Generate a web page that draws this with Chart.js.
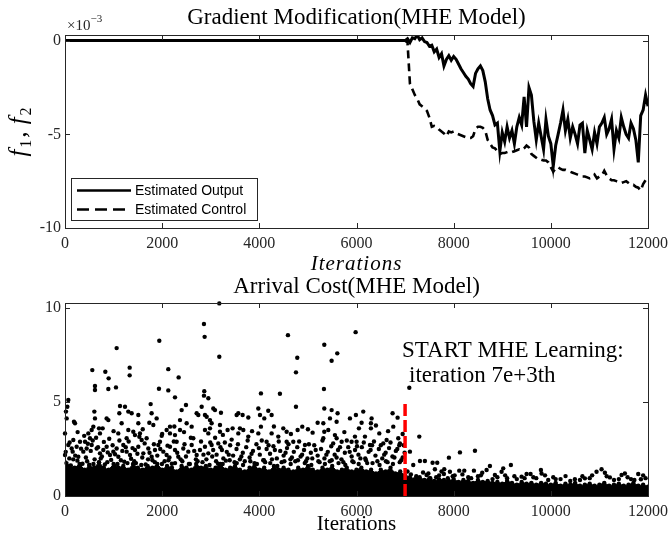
<!DOCTYPE html>
<html>
<head>
<meta charset="utf-8">
<script src="https://cdn.jsdelivr.net/npm/chart.js@4.4.0/dist/chart.umd.min.js"></script>
<style>
  html, body { margin: 0; padding: 0; background: #fff; }
  #wrap { position: relative; width: 669px; height: 542px; overflow: hidden; }
  canvas { position: absolute; left: 0; }
  #gradChart { top: 0; }
  #costChart { top: 270px; }
</style>
</head>
<body>
<div id="wrap">
  <canvas id="gradChart" width="669" height="276"></canvas>
  <canvas id="costChart" width="669" height="272"></canvas>
</div>
<script>
const SERIF = '"Liberation Serif", "Times New Roman", serif';
const SANS = '"Liberation Sans", Arial, sans-serif';
const INK = '#262626';

const iterTicks = [0, 2000, 4000, 6000, 8000, 10000, 12000];
const gradTicks = [-10, -5, 0];
const costTicks = [0, 5, 10];

// gradient modification terms (x1e-3), flat until learning starts, then every 50 iterations
const gradIter = [0];
for (let it = 7000; it <= 12000; it += 50) gradIter.push(it);

const outputVals = [0,
  0, 0.1, -0.1, 0.15, 0.1, 0.3, 0.05, 0.15, -0.05, -0.1,
  -0.3, -0.25, -0.6, -0.45, -0.9, -0.7, -1.35, -1.0, -0.8, -1.05,
  -0.85, -1.0, -1.25, -1.5, -1.7, -1.9, -2.05, -2.3, -2.45, -1.75,
  -1.5, -1.35, -1.6, -2.2, -3.1, -3.7, -4.0, -4.5, -4.4, -5.9,
  -4.9, -5.4, -4.6, -5.2, -4.8, -5.5, -4.6, -4.1, -4.5, -3.0,
  -4.6, -2.5, -2.9, -4.3, -5.3, -4.4, -5.1, -5.8, -4.2, -5.1,
  -5.5, -6.7, -5.6, -5.0, -4.4, -3.7, -4.8, -4.2, -5.2, -4.6,
  -5.0, -5.5, -4.5, -4.4, -6.0, -4.8, -5.3, -5.8, -4.9, -5.5,
  -4.6, -4.4, -4.1, -5.0, -4.7, -4.2, -5.8, -4.8, -5.2, -4.1,
  -4.6, -5.0, -5.2, -4.4, -4.7, -5.3, -6.5, -4.0, -3.7, -2.9,
  -3.5];

const controlVals = [0,
  0, -0.1, -2.3, -2.6, -2.9, -3.1, -3.4, -3.5, -3.6, -3.75,
  -4.1, -4.6, -4.55, -4.6, -4.75, -4.85, -4.95, -5.1, -4.85, -4.9,
  -4.85, -4.95, -5.0, -5.05, -5.1, -5.15, -5.2, -5.2, -5.1, -4.7,
  -4.6, -4.6, -4.65, -4.8, -5.3, -5.5, -5.7, -5.75, -5.9, -6.05,
  -6.0, -6.0, -5.95, -5.9, -5.95, -5.9, -5.85, -5.8, -5.85, -5.75,
  -5.6, -5.7, -6.05, -6.15, -6.25, -6.35, -6.35, -6.4, -6.4, -6.5,
  -6.75, -7.0, -6.8, -6.75, -6.85, -6.9, -6.9, -6.95, -7.0, -7.05,
  -7.1, -7.15, -7.2, -7.25, -7.25, -7.3, -7.35, -7.3, -7.15, -7.35,
  -7.25, -7.2, -6.95, -7.2, -7.35, -7.45, -7.45, -7.5, -7.55, -7.6,
  -7.55, -7.5, -7.6, -7.7, -7.7, -7.8, -7.85, -8.0, -7.65, -7.45,
  -7.35];

// upper edge of the solid cloud of arrival-cost samples, every 100 iterations
const bandIter = [];
for (let it = 0; it <= 12000; it += 100) bandIter.push(it);

const bandTop = [
  1.8, 1.6, 1.5, 1.7, 1.4, 1.6, 1.5, 1.8, 1.5, 1.4,
  1.7, 1.5, 1.6, 1.4, 1.7, 1.5, 1.4, 1.6, 1.5, 1.7,
  1.4, 1.6, 1.5, 1.3, 1.6, 1.5, 1.4, 1.7, 1.5, 1.6,
  1.4, 1.5, 1.7, 1.4, 1.5, 1.6, 1.4, 1.3, 1.5, 1.6,
  1.4, 1.5, 1.3, 1.6, 1.4, 1.5, 1.4, 1.3, 1.5, 1.4,
  1.6, 1.4, 1.3, 1.5, 1.4, 1.6, 1.3, 1.4, 1.5, 1.3,
  1.4, 1.5, 1.3, 1.4, 1.2, 1.4, 1.3, 1.5, 1.2, 1.3,
  1.1, 1.0, 0.9, 1.0, 0.85, 0.95, 0.8, 0.9, 0.85, 0.8,
  0.9, 0.75, 0.85, 0.8, 0.7, 0.85, 0.75, 0.8, 0.7, 0.75,
  0.65, 0.8, 0.7, 0.6, 0.75, 0.65, 0.7, 0.6, 0.7, 0.65,
  0.6, 0.7, 0.55, 0.65, 0.6, 0.7, 0.55, 0.6, 0.65, 0.55,
  0.6, 0.7, 0.55, 0.6, 0.65, 0.55, 0.6, 0.7, 0.55, 0.6, 0.5];

// individual arrival-cost samples [iteration, cost]
const costHigh = [
  [3176, 10.25], [2860, 9.15], [2874, 8.47], [1941, 8.26], [4589, 8.56], [5982, 8.72], [4781, 7.36], [4754, 6.58],
  [5337, 8.05], [5488, 7.2], [5604, 7.59], [3176, 7.41], [1063, 7.87], [562, 6.7], [830, 6.61], [898, 6.26],
  [1331, 6.83], [1331, 6.42], [2126, 6.75], [2339, 6.31], [617, 5.85], [617, 5.64], [1049, 5.78], [892, 5.69],
  [1934, 5.71], [2126, 5.62], [2867, 5.58], [2860, 5.34], [4424, 5.44], [4033, 5.46], [5330, 5.69], [7087, 5.76],
  [68, 5.11], [2264, 5.25], [2950, 5.2]];

const costMid = [
  [48, 4.75], [20, 4.49], [34, 4.13], [0, 3.33], [185, 3.95], [206, 3.87], [604, 4.49], [617, 4.13], [583, 3.69], [549, 3.51],
  [480, 3.33], [857, 4.13], [892, 4.04], [775, 3.6], [720, 3.33], [1132, 4.79], [1235, 4.75], [1303, 4.49], [1372, 4.4], [1509, 4.31],
  [1118, 4.4], [1166, 3.87], [1097, 3.33], [1303, 3.51], [1406, 3.42], [1440, 3.24], [1543, 3.33], [1509, 3.87], [1578, 2.98], [1763, 4.89],
  [1783, 4.4], [1736, 3.9], [1818, 3.78], [1886, 4.13], [2161, 3.69], [2092, 3.51], [2161, 3.33], [2264, 3.24], [2367, 3.51], [2367, 4.04],
  [2401, 4.57], [2490, 4.84], [2504, 3.87], [2607, 3.69], [2710, 4.4], [2744, 4.31], [2813, 4.75], [2916, 4.22], [2881, 3.51], [3052, 4.66],
  [3087, 4.57], [3210, 4.43], [3533, 4.31], [3567, 4.4], [3656, 4.31], [3773, 4.18], [3979, 4.66], [4013, 4.31], [4102, 4.13], [4184, 4.54],
  [4253, 4.31], [5337, 4.66], [5488, 4.57], [5611, 4.4], [5454, 4.13], [5591, 3.95], [5865, 4.13], [2881, 4.31], [2984, 4.04], [3018, 3.87],
  [3190, 3.78], [2984, 3.6], [3347, 3.51], [3190, 3.42], [2950, 3.33], [3601, 3.6], [3670, 3.51], [3567, 3.33], [3773, 3.16], [3979, 3.33],
  [4033, 3.69], [4253, 3.33], [4390, 3.16], [4493, 3.6], [4562, 3.42], [4788, 3.51], [4884, 3.69], [5097, 3.37], [5317, 3.87], [5337, 3.42],
  [5419, 3.51], [5556, 3.24], [5591, 3.07], [5317, 3.07], [6139, 4.49], [5988, 4.31], [6311, 4.13], [6743, 4.4], [6846, 4.17], [6105, 3.9],
  [6297, 3.87], [6297, 3.6], [6757, 3.69], [6469, 3.33], [5968, 3.16], [6174, 3.16], [6860, 3.07], [4754, 4.75],
  [260, 3.4], [700, 3.6], [1000, 3.45], [1600, 3.55], [2000, 3.3], [2250, 3.7], [2450, 3.4], [3250, 3.25], [3450, 3.6], [3850, 3.45],
  [4300, 3.7], [4650, 3.3], [5000, 3.55], [5200, 3.9], [5750, 3.4], [6050, 3.6], [6400, 3.75], [6650, 3.45], [6950, 3.3]];

const costBand = [
  [309, 2.89], [412, 2.89], [514, 3.07], [171, 2.98], [1269, 3.07], [1680, 3.07], [1955, 2.89], [2298, 2.89], [2641, 3.07], [5694, 2.89],
  [5899, 2.89], [4150, 2.89], [4562, 2.89], [4699, 2.89], [4939, 2.71], [3018, 2.71], [3155, 2.8], [6002, 2.89], [6551, 2.8], [6894, 2.8],
  [6277, 2.71], [6620, 2.98],
  [68, 2.71], [137, 2.53], [240, 2.62], [158, 2.36], [0, 2.18], [89, 2.0], [274, 2.09], [377, 2.36], [446, 2.53], [549, 2.71],
  [652, 2.53], [720, 2.27], [789, 2.45], [857, 2.62], [926, 2.18], [995, 2.36], [1063, 2.53], [1098, 2.09], [1200, 2.71], [1269, 2.36],
  [1338, 2.18], [1441, 2.45], [1509, 2.62], [1612, 2.27], [1715, 2.53], [1784, 2.09], [1852, 2.45], [1921, 2.71], [2024, 2.36], [2092, 2.18],
  [2161, 2.62], [2264, 2.45], [2332, 2.09], [2435, 2.53], [2538, 2.36], [2607, 2.71], [2710, 2.18], [2778, 2.45], [2881, 2.62], [2950, 2.27],
  [3050, 2.45], [3120, 2.2], [3200, 2.6], [3260, 2.0], [3330, 2.35], [3400, 2.7], [3460, 2.15], [3530, 2.5], [3600, 1.95], [3660, 2.3],
  [3730, 2.6], [3800, 2.05], [3870, 2.4], [3940, 2.75], [4010, 2.2], [4080, 1.9], [4150, 2.5], [4220, 2.25], [4290, 2.65], [4360, 2.0],
  [4430, 2.4], [4500, 2.15], [4570, 2.55], [4640, 1.95], [4710, 2.35], [4780, 2.6], [4850, 2.1], [4920, 2.45], [4990, 2.0], [5060, 2.3],
  [5130, 2.7], [5200, 2.15], [5270, 2.5], [5340, 2.0], [5410, 2.35], [5480, 2.65], [5550, 2.2], [5620, 2.45], [5690, 1.95], [5760, 2.3],
  [5830, 2.6], [5900, 2.1], [5970, 2.45], [6040, 2.2], [6110, 2.6], [6180, 2.0], [6250, 2.35], [6320, 2.7], [6390, 2.15], [6460, 2.5],
  [6530, 2.0], [6600, 2.3], [6670, 2.55], [6740, 2.1], [6810, 2.4], [6880, 2.7], [6950, 2.05], [6990, 2.3],
  [30, 1.75], [170, 1.95], [310, 1.65], [455, 1.85], [585, 1.7], [735, 2.0], [870, 1.8], [1015, 1.6], [1150, 1.9], [1285, 1.75],
  [1425, 1.85], [1570, 1.65], [1710, 1.95], [1850, 1.8], [1995, 1.7], [2130, 1.9], [2265, 1.75], [2415, 1.85], [2550, 1.7], [2695, 1.95],
  [2830, 1.8], [2975, 1.65], [3110, 1.85], [3245, 1.7], [3390, 1.9], [3535, 1.75], [3665, 1.65], [3815, 1.85], [3950, 1.7], [4095, 1.9],
  [4225, 1.75], [4370, 1.6], [4515, 1.85], [4645, 1.7], [4795, 1.9], [4935, 1.75], [5070, 1.65], [5215, 1.85], [5350, 1.7], [5490, 1.9],
  [5630, 1.75], [5770, 1.65], [5915, 1.85], [6045, 1.7], [6195, 1.9], [6330, 1.75], [6475, 1.65], [6605, 1.85], [6750, 1.7], [6890, 1.8]];

const costFill = [
  [15, 2.35], [95, 2.85], [120, 1.62], [210, 2.15], [255, 1.88], [330, 2.52], [360, 1.72], [395, 3.2], [430, 2.05], [470, 2.78],
  [500, 1.66], [530, 2.4], [570, 2.95], [610, 1.95], [640, 3.1], [680, 2.6], [700, 1.78], [760, 2.1], [800, 2.88], [820, 1.68],
  [880, 2.32], [910, 3.05], [950, 1.92], [980, 2.7], [1030, 2.22], [1080, 1.7], [1120, 2.95], [1180, 2.4], [1220, 1.82], [1250, 2.6],
  [1310, 2.9], [1360, 1.98], [1390, 2.55], [1460, 1.75], [1490, 2.25], [1530, 3.15], [1590, 2.05], [1640, 2.8], [1660, 1.68], [1740, 2.3],
  [1800, 1.9], [1830, 2.75], [1900, 2.15], [1960, 2.5], [1990, 3.2], [2050, 1.85], [2110, 2.68], [2150, 2.05], [2200, 1.72], [2240, 2.9],
  [2310, 2.3], [2380, 1.95], [2460, 2.75], [2490, 2.1], [2570, 1.7], [2590, 3.1], [2660, 2.4], [2730, 1.85], [2800, 2.9], [2850, 2.2],
  [2910, 1.95], [2990, 2.85], [3030, 2.1], [3090, 3.1], [3150, 1.72], [3230, 2.45], [3290, 2.85], [3310, 1.88], [3370, 2.2], [3430, 3.0],
  [3490, 1.8], [3560, 2.75], [3630, 2.1], [3700, 1.85], [3760, 2.95], [3840, 2.25], [3900, 1.75], [3990, 2.55], [4050, 2.95], [4120, 1.8],
  [4190, 2.7], [4260, 1.95], [4320, 2.45], [4400, 2.9], [4460, 1.8], [4540, 2.3], [4600, 2.75], [4670, 2.05], [4740, 1.85], [4820, 2.9],
  [4880, 2.2], [4960, 1.85], [5020, 2.75], [5090, 2.0], [5160, 2.45], [5240, 1.8], [5300, 2.95], [5380, 2.2], [5450, 1.85], [5520, 2.8],
  [5590, 2.05], [5660, 2.6], [5730, 1.8], [5800, 2.95], [5860, 2.35], [5940, 1.8], [6010, 2.65], [6080, 2.0], [6150, 2.85], [6220, 1.75],
  [6290, 2.45], [6360, 2.9], [6430, 1.85], [6500, 2.7], [6570, 2.2], [6640, 1.8], [6700, 2.85], [6780, 2.05], [6840, 2.5], [6920, 1.9],
  [6970, 2.7]];

const costLate = [
  [7168, 1.65], [7306, 1.86], [7408, 1.86], [7566, 1.77], [7662, 1.77], [7806, 1.42], [7923, 1.29], [8115, 1.35], [8218, 1.35], [8417, 1.35],
  [8588, 1.24], [8746, 1.6], [8849, 1.12], [7614, 1.42], [7443, 1.12], [7799, 1.17], [8678, 1.38], [7100, 2.36], [8129, 2.32], [8438, 2.41],
  [7902, 2.04], [7292, 3.16], [9178, 1.65], [9020, 1.47], [8986, 1.29], [9501, 1.17], [9583, 1.17], [9796, 1.38], [9809, 1.2], [10303, 1.06],
  [10495, 0.89], [10941, 1.29], [11044, 1.42], [11113, 1.24], [11216, 0.99], [11456, 1.12], [11524, 1.2], [11799, 1.17], [11854, 0.89], [9398, 1.03],
  [9946, 0.85], [10701, 0.94], [7050, 1.3], [7230, 1.05], [7370, 1.25], [7520, 0.95], [7700, 1.1], [7880, 0.95], [8020, 1.1], [8300, 1.0],
  [8500, 1.05], [8800, 0.9], [9100, 0.95], [9300, 0.9], [9700, 0.95], [10100, 0.9], [10400, 0.8], [10600, 0.85], [10800, 0.95], [11300, 0.85],
  [11650, 0.9], [11950, 0.95],
  [7120, 1.15], [7260, 0.95], [7480, 1.2], [7640, 1.0], [7750, 1.3], [7980, 1.05], [8180, 1.15], [8360, 0.95], [8560, 1.1], [8900, 1.0],
  [9060, 1.1], [9250, 1.05], [9460, 0.95], [9640, 1.0], [9880, 1.1], [10050, 1.0], [10200, 0.9], [10650, 1.05], [10850, 1.1], [11150, 1.05],
  [11400, 0.9], [11580, 1.0], [11720, 0.85], [11900, 1.1]];

const startIter = 7000;
const startMarkTop = 4.9;

function xAxis(height) {
  return {
    type: 'linear', min: 0, max: 12000,
    afterBuildTicks: s => { s.ticks = iterTicks.map(v => ({ value: v })); },
    // keep the plot width fixed; end labels may run into the margin
    afterFit: s => { s.height = height; s.paddingLeft = 0; s.paddingRight = 0; },
    grid: { display: false, drawTicks: false },
    border: { display: false },
    ticks: { padding: 6, color: INK, maxRotation: 0, autoSkip: false,
             font: { family: SERIF, size: 16 }, callback: v => String(v) }
  };
}

function yAxis(min, max, ticks) {
  return {
    type: 'linear', min: min, max: max,
    afterBuildTicks: s => { s.ticks = ticks.map(v => ({ value: v })); },
    afterFit: s => { s.width = 65; },
    grid: { display: false, drawTicks: false },
    border: { display: false },
    ticks: { padding: 4, color: INK, font: { family: SERIF, size: 16 }, callback: v => String(v) }
  };
}

// axes box with inward tick marks on all four sides
const frame = {
  id: 'frame',
  afterDatasetsDraw(chart) {
    const { ctx, chartArea: a, scales: { x, y } } = chart;
    ctx.save();
    ctx.strokeStyle = INK;
    ctx.lineWidth = 1;
    ctx.setLineDash([]);
    ctx.beginPath();
    x.ticks.forEach(t => {
      const px = Math.round(x.getPixelForValue(t.value)) + 0.5;
      ctx.moveTo(px, a.bottom); ctx.lineTo(px, a.bottom - 5);
      ctx.moveTo(px, a.top); ctx.lineTo(px, a.top + 5);
    });
    y.ticks.forEach(t => {
      const py = Math.round(y.getPixelForValue(t.value)) + 0.5;
      ctx.moveTo(a.left, py); ctx.lineTo(a.left + 5, py);
      ctx.moveTo(a.right, py); ctx.lineTo(a.right - 5, py);
    });
    ctx.stroke();
    ctx.strokeRect(a.left + 0.5, a.top + 0.5, a.right - a.left, a.bottom - a.top);
    ctx.restore();
  }
};

const gradDecor = {
  id: 'gradDecor',
  afterDraw(chart) {
    const { ctx, chartArea: a } = chart;
    const mid = (a.left + a.right) / 2;
    ctx.save();
    ctx.fillStyle = '#000';
    ctx.textBaseline = 'alphabetic';
    ctx.textAlign = 'center';
    ctx.font = '23px ' + SERIF;
    ctx.fillText('Gradient Modification(MHE Model)', mid, 24);
    ctx.font = 'italic 21px ' + SERIF;
    ctx.letterSpacing = '1px';
    ctx.fillText('Iterations', mid, 270);
    ctx.letterSpacing = '0px';

    // exponent label
    ctx.textAlign = 'left';
    ctx.fillStyle = INK;
    ctx.font = '15px ' + SERIF;
    ctx.fillText('\u00d710', a.left + 2, 30);
    const ew = ctx.measureText('\u00d710').width;
    ctx.font = '11px ' + SERIF;
    ctx.fillText('\u22123', a.left + 2 + ew, 22);

    // y label f1, f2
    const parts = [
      { t: 'f', f: 'italic 25px ' + SERIF, dy: 0 },
      { t: '1', f: '16px ' + SERIF, dy: 5 },
      { t: ',\u2009', f: 'italic 25px ' + SERIF, dy: 0 },
      { t: 'f', f: 'italic 25px ' + SERIF, dy: 0 },
      { t: '2', f: '16px ' + SERIF, dy: 5 }
    ];
    let total = 0;
    parts.forEach(p => { ctx.font = p.f; p.w = ctx.measureText(p.t).width + 2; total += p.w; });
    ctx.translate(26, 131);
    ctx.rotate(-Math.PI / 2);
    ctx.fillStyle = '#000';
    let cx = -total / 2;
    parts.forEach(p => { ctx.font = p.f; ctx.fillText(p.t, cx, p.dy); cx += p.w; });
    ctx.setTransform(1, 0, 0, 1, 0, 0);

    // legend
    const lx = a.left + 6, ly = a.bottom - 50, lw = 186, lh = 42;
    ctx.fillStyle = '#fff';
    ctx.fillRect(lx, ly, lw, lh);
    ctx.strokeStyle = INK;
    ctx.lineWidth = 1;
    ctx.strokeRect(lx + 0.5, ly + 0.5, lw, lh);
    ctx.font = '14px ' + SANS;
    ctx.textBaseline = 'middle';
    chart.data.datasets.forEach((ds, i) => {
      const yy = ly + 12.5 + i * 19;
      ctx.strokeStyle = '#000';
      ctx.lineWidth = 2.6;
      ctx.setLineDash(ds.borderDash ? [12, 6] : []);
      ctx.beginPath();
      ctx.moveTo(lx + 6, yy);
      ctx.lineTo(lx + 60, yy);
      ctx.stroke();
      ctx.fillStyle = '#000';
      ctx.fillText(ds.label, lx + 64, yy + 1);
    });
    ctx.restore();
  }
};

const costDecor = {
  id: 'costDecor',
  afterDraw(chart) {
    const { ctx, chartArea: a, scales: { x } } = chart;
    const mid = (a.left + a.right) / 2;
    ctx.save();
    ctx.fillStyle = '#000';
    ctx.textBaseline = 'alphabetic';
    ctx.textAlign = 'center';
    ctx.font = '23px ' + SERIF;
    ctx.fillText('Arrival Cost(MHE Model)', mid, 23);
    ctx.font = '21px ' + SERIF;
    ctx.fillText('Iterations', mid, 260);

    const x0 = x.getPixelForValue(startIter);
    ctx.textAlign = 'left';
    ctx.font = '23px ' + SERIF;
    ctx.fillText('START MHE Learning:', x0 - 3, a.top + 54);
    ctx.fillText('iteration 7e+3th', x0 + 4, a.top + 79);
    ctx.restore();
  }
};

const baseOptions = {
  responsive: false,
  animation: false,
  events: [],
  plugins: { legend: { display: false }, tooltip: { enabled: false } }
};

new Chart(document.getElementById('gradChart'), {
  type: 'line',
  data: {
    datasets: [
      {
        label: 'Estimated Output',
        data: gradIter.map((it, i) => ({ x: it, y: outputVals[i] })),
        borderColor: '#000', borderWidth: 3, pointRadius: 0, tension: 0
      },
      {
        label: 'Estimated Control',
        data: gradIter.map((it, i) => ({ x: it, y: controlVals[i] })),
        borderColor: '#000', borderWidth: 2.6, borderDash: [8, 5], pointRadius: 0, tension: 0
      }
    ]
  },
  options: Object.assign({}, baseOptions, {
    layout: { padding: { left: 0, right: 21, top: 35, bottom: 0 } },
    scales: { x: xAxis(48), y: yAxis(-10, 0.3, gradTicks) }
  }),
  plugins: [frame, gradDecor]
});

const costPoints = [...costHigh, ...costMid, ...costBand, ...costFill, ...costLate]
  .map(([it, c]) => ({ x: it, y: c }));

new Chart(document.getElementById('costChart'), {
  type: 'scatter',
  data: {
    datasets: [
      {
        type: 'line',
        data: [{ x: startIter, y: 0 }, { x: startIter, y: startMarkTop }],
        borderColor: '#ff0000', borderWidth: 3.5, borderDash: [12, 4], pointRadius: 0
      },
      {
        data: costPoints,
        backgroundColor: '#000', borderWidth: 0, pointRadius: 2.2, clip: false
      },
      {
        type: 'line',
        data: bandIter.map((it, i) => ({ x: it, y: bandTop[i] })),
        fill: 'origin', backgroundColor: '#000', borderColor: '#000', borderWidth: 1,
        pointRadius: 2.2, pointBackgroundColor: '#000', pointBorderWidth: 0, tension: 0
      }
    ]
  },
  options: Object.assign({}, baseOptions, {
    layout: { padding: { left: 0, right: 21, top: 33, bottom: 0 } },
    scales: { x: xAxis(46), y: yAxis(0, 10.27, costTicks) }
  }),
  plugins: [frame, costDecor]
});
</script>
</body>
</html>
